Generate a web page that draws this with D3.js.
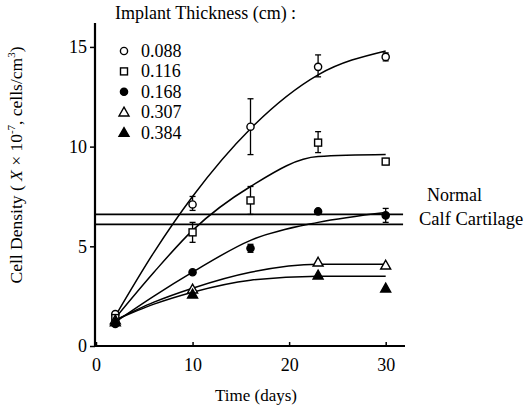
<!DOCTYPE html>
<html>
<head>
<meta charset="utf-8">
<script src="https://cdn.jsdelivr.net/npm/d3@7"></script>
<style>
  body { margin: 0; background: #fff; }
  text { font-family: "Liberation Serif", "Times New Roman", serif; fill: #000; }
</style>
</head>
<body>
<svg id="chart" width="526" height="410"></svg>
<script>
// measured days and values (cells/cm3 x 1e-7)
const thickness = ['0.088', '0.116', '0.168', '0.307', '0.384'];
const days = [2, 10, 16, 23, 30];
const val088 = [1.6, 7.1, 11.0, 14.0, 14.5];
const val116 = [1.4, 5.7, 7.3, 10.2, 9.25];
const val168 = [1.1, 3.7, 4.9, 6.75, 6.55];
const val307 = [1.3, 2.85, null, 4.2, 4.05];
const val384 = [1.2, 2.6, null, 3.55, 2.9];
// error bars [low, high], null where none drawn
const err088 = [null, [6.8, 7.5], [9.6, 12.4], [13.5, 14.6], [14.3, 14.7]];
const err116 = [null, [5.2, 6.2], [6.6, 8.0], [9.7, 10.75], [9.1, 9.4]];
const err168 = [null, null, [4.7, 5.1], null, [6.2, 6.9]];
// fitted curves
const fitDays = [2, 6, 10, 16, 23, 30];
const fit088 = [1.5, 4.7, 7.5, 10.9, 13.6, 14.8];
const fit116 = [1.4, 3.7, 5.8, 8.0, 9.5, 9.6];
const fit168 = [1.2, 2.5, 3.7, 5.3, 6.2, 6.7];
const fit307 = [1.3, 2.2, 2.9, 3.7, 4.1, 4.1];
const fit384 = [1.3, 2.1, 2.7, 3.3, 3.5, 3.5];
// normal calf cartilage band
const normalBand = [6.1, 6.6];
const xTicks = [0, 10, 20, 30];
const yTicks = [0, 5, 10, 15];

const svg = d3.select('#chart');
const cs = {
  x: { domain: [0, 32], range: [96, 405] },
  y: { domain: [0, 16.2], range: [346, 23] },
  fontSize: 18,
};
cs.x.scale = d3.scaleLinear().domain(cs.x.domain).range(cs.x.range);
cs.y.scale = d3.scaleLinear().domain(cs.y.domain).range(cs.y.range);
const x = cs.x.scale;
const y = cs.y.scale;

const series = [
  { name: thickness[0], vals: val088, err: err088, fit: fit088, shape: 'circle', fill: '#fff' },
  { name: thickness[1], vals: val116, err: err116, fit: fit116, shape: 'square', fill: '#fff' },
  { name: thickness[2], vals: val168, err: err168, fit: fit168, shape: 'circle', fill: '#000' },
  { name: thickness[3], vals: val307, err: null, fit: fit307, shape: 'triangle', fill: '#fff' },
  { name: thickness[4], vals: val384, err: null, fit: fit384, shape: 'triangle', fill: '#000' },
];

const drawMarker = (g, s, cx, cy) => {
  if (s.shape === 'circle') {
    g.append('circle').attr('cx', cx).attr('cy', cy).attr('r', 3.6)
      .attr('fill', s.fill).attr('stroke', '#000').attr('stroke-width', 1.4);
  } else if (s.shape === 'square') {
    g.append('rect').attr('x', cx - 3.5).attr('y', cy - 3.5).attr('width', 7).attr('height', 7)
      .attr('fill', s.fill).attr('stroke', '#000').attr('stroke-width', 1.4);
  } else {
    g.append('path')
      .attr('d', `M${cx},${cy - 5}L${cx + 5},${cy + 3.8}L${cx - 5},${cy + 3.8}Z`)
      .attr('fill', s.fill).attr('stroke', '#000').attr('stroke-width', 1.4);
  }
};

// normal cartilage lines
svg.append('g').selectAll('line').data(normalBand).enter()
  .append('line')
  .attr('x1', x(0)).attr('x2', x(31.8))
  .attr('y1', d => y(d)).attr('y2', d => y(d))
  .attr('stroke', '#000').attr('stroke-width', 1.6);

// fitted curves
const lineFunction = d3.line()
  .x((d, i) => x(fitDays[i]))
  .y(d => y(d))
  .curve(d3.curveMonotoneX);
svg.append('g').selectAll('path').data(series).enter()
  .append('path')
  .attr('d', s => lineFunction(s.fit))
  .attr('fill', 'none')
  .attr('stroke', '#000')
  .attr('stroke-width', 1.5);

// error bars and points
const pts = svg.append('g');
series.forEach((s) => {
  if (s.err) {
    s.err.forEach((e, i) => {
      if (!e) return;
      const cx = x(days[i]);
      pts.append('line').attr('x1', cx).attr('x2', cx).attr('y1', y(e[0])).attr('y2', y(e[1]))
        .attr('stroke', '#000').attr('stroke-width', 1.3);
      e.forEach((v) => {
        pts.append('line').attr('x1', cx - 3).attr('x2', cx + 3).attr('y1', y(v)).attr('y2', y(v))
          .attr('stroke', '#000').attr('stroke-width', 1.3);
      });
    });
  }
  s.vals.forEach((v, i) => {
    if (v == null) return;
    drawMarker(pts, s, x(days[i]), y(v));
  });
});

// axes
const xAxis = d3.axisBottom(x).tickValues(xTicks).tickSize(-4).tickPadding(12);
const yAxis = d3.axisLeft(y).tickValues(yTicks).tickSize(5).tickPadding(3);
const gx = svg.append('g').attr('class', 'axis').attr('transform', `translate(0,${y(0)})`).call(xAxis);
const gy = svg.append('g').attr('class', 'axis').attr('transform', `translate(${x(0) - 1},0)`).call(yAxis);
[gx, gy].forEach((g) => {
  g.attr('font-family', null);
  g.select('.domain').attr('stroke', '#000').attr('stroke-width', 2.2);
  g.selectAll('.tick line').attr('stroke', '#000').attr('stroke-width', 1.5);
  g.selectAll('.tick text').attr('font-size', 18).attr('fill', '#000');
});
gy.select('.domain').attr('d', `M0,${y(0)}V${y(16.2)}`);
gx.select('.domain').attr('d', `M${x(0) - 2},0H${x(32)}`);

// legend
svg.append('text').attr('x', 115).attr('y', 19).attr('font-size', cs.fontSize)
  .text('Implant Thickness (cm) :');
const legend = svg.append('g');
series.forEach((s, i) => {
  const ly = 51 + i * 20.4;
  drawMarker(legend, s, 124, ly);
  legend.append('text').attr('x', 141).attr('y', ly + 6).attr('font-size', 18).text(s.name);
});

// normal cartilage label
svg.append('text').attr('x', 427).attr('y', 201).attr('font-size', cs.fontSize).text('Normal');
svg.append('text').attr('x', 419).attr('y', 225).attr('font-size', 18.5).text('Calf Cartilage');

// axis titles
svg.append('text').attr('x', 256).attr('y', 401).attr('text-anchor', 'middle')
  .attr('font-size', 17).text('Time (days)');
const yl = svg.append('text')
  .attr('transform', 'translate(22,165) rotate(-90)')
  .attr('text-anchor', 'middle')
  .attr('font-size', 17.5);
yl.append('tspan').text('Cell Density ( ');
yl.append('tspan').attr('font-style', 'italic').text('X');
yl.append('tspan').text(' × 10');
yl.append('tspan').attr('dy', -7).attr('font-size', 11).text('-7');
yl.append('tspan').attr('dy', 7).text(', cells/cm');
yl.append('tspan').attr('dy', -7).attr('font-size', 11).text('3');
yl.append('tspan').attr('dy', 7).text(')');
</script>
</body>
</html>
